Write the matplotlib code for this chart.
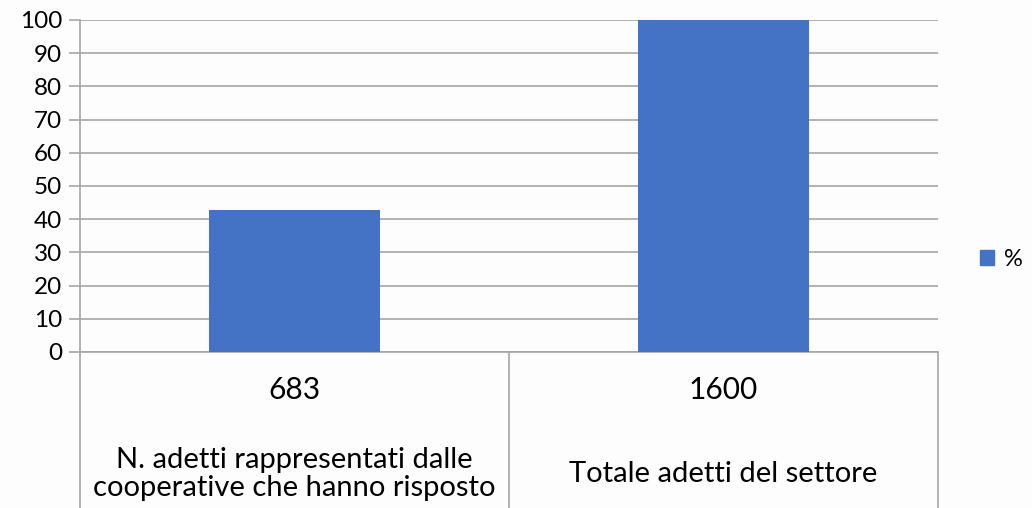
import matplotlib.pyplot as plt
from matplotlib.patches import Patch

# data
categories = ["N. adetti rappresentati dalle\ncooperative che hanno risposto",
              "Totale adetti del settore"]
counts = ["683", "1600"]
percent = [42.7, 100]
series_name = "%"
yticks = list(range(0, 101, 10))

plt.rcParams['font.family'] = ['Lato', 'DejaVu Sans']

bar_color = '#4472C4'
line_color = '#A6A6A6'

fig = plt.figure(figsize=(10.32, 5.08), dpi=100)
fig.patch.set_facecolor('#FDFDFD')
ax = fig.add_axes([80 / 1032, 156 / 508, 858 / 1032, 332 / 508])
ax.set_facecolor('none')

x = list(range(len(categories)))
ax.bar(x, percent, width=0.4, color=bar_color, zorder=3)

ax.set_xlim(-0.5, len(categories) - 0.5)
ax.set_ylim(0, 100)
ax.set_yticks(yticks)
ax.tick_params(axis='y', labelsize=17.5, length=8, width=1.2, color=line_color, pad=5)
ax.set_xticks([])
ax.grid(axis='y', color=line_color, linewidth=1.2, zorder=0)
for s in ['top', 'right']:
    ax.spines[s].set_visible(False)
for s in ['left', 'bottom']:
    ax.spines[s].set_color(line_color)
    ax.spines[s].set_linewidth(1.2)

# table-like category area under the axis
bounds = [i - 0.5 for i in range(len(categories) + 1)]
ax.vlines(bounds, -0.48, 0, transform=ax.get_xaxis_transform(),
          color=line_color, linewidth=1.2, clip_on=False)
for xi, (cnt, cat) in enumerate(zip(counts, categories)):
    ax.text(xi, -0.114, cnt, transform=ax.get_xaxis_transform(),
            ha='center', va='center', fontsize=21.5)
    ax.text(xi, -0.367, cat, transform=ax.get_xaxis_transform(),
            ha='center', va='center', fontsize=21, linespacing=1.1)

fig.legend(handles=[Patch(color=bar_color, label=series_name)],
           loc='center left', bbox_to_anchor=(980 / 1032, 1 - 259 / 508),
           frameon=False, fontsize=17, handlelength=0.6, handleheight=0.6,
           handletextpad=0.4, borderpad=0, borderaxespad=0)

fig.savefig('out.png', dpi=100, facecolor=fig.get_facecolor())
